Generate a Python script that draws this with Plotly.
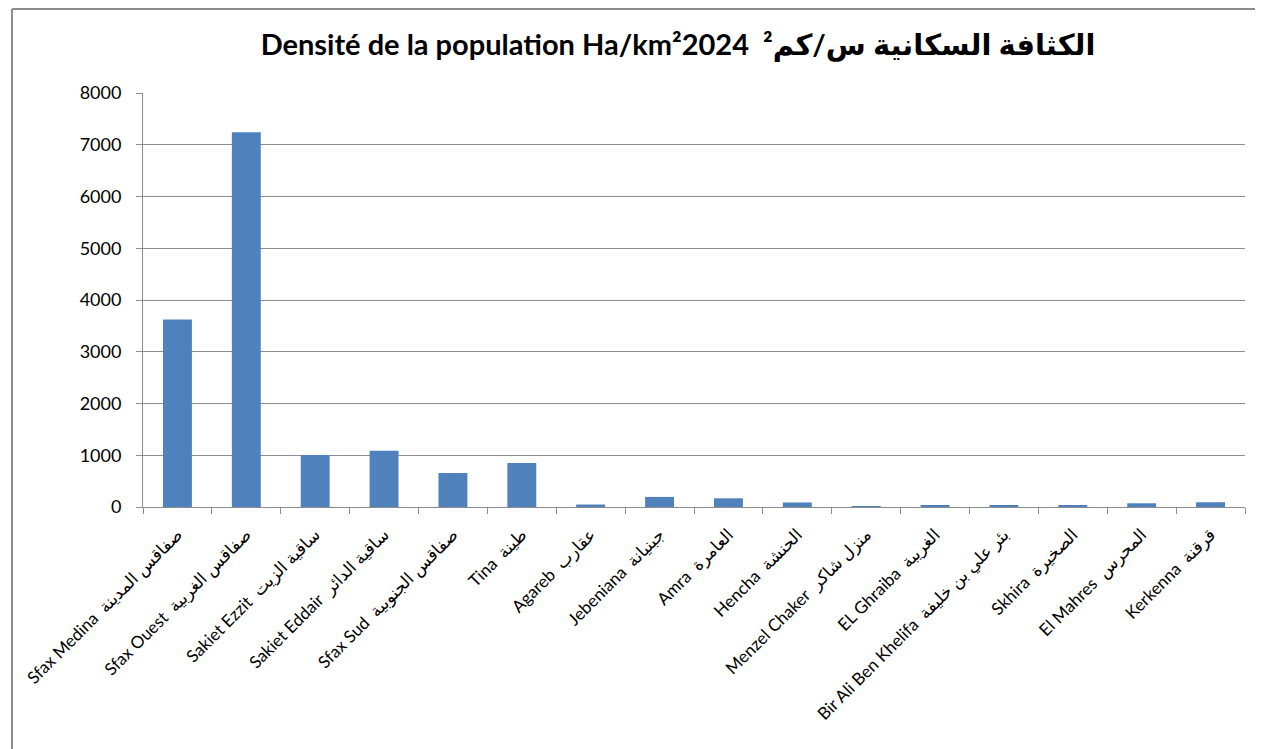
import plotly.graph_objects as go

# Délégations du gouvernorat de Sfax
names_fr = ['Sfax Medina', 'Sfax Ouest', 'Sakiet Ezzit', 'Sakiet Eddair', 'Sfax Sud', 'Tina',
            'Agareb', 'Jebeniana', 'Amra', 'Hencha', 'Menzel Chaker', 'EL Ghraiba',
            'Bir Ali Ben Khelifa', 'Skhira', 'El Mahres', 'Kerkenna']
names_ar = ['صفاقس المدينة', 'صفاقس الغربية', 'ساقية الزيت', 'ساقية الدائر', 'صفاقس الجنوبية', 'طينة',
            'عقارب', 'جبنيانة', 'العامرة', 'الحنشة', 'منزل شاكر', 'الغريبة',
            'بئر علي بن خليفة', 'الصخيرة', 'المحرس', 'قرقنة']
density = [3625, 7240, 1005, 1085, 655, 850, 48, 195, 168, 88, 14, 28, 34, 28, 72, 92]

y_ticks = [0, 1000, 2000, 3000, 4000, 5000, 6000, 7000, 8000]

labels = [f'{fr}  {ar}' for fr, ar in zip(names_fr, names_ar)]

FONT = "Lato, 'DejaVu Sans', sans-serif"
GRAY = '#8c8c8c'

fig = go.Figure(go.Bar(x=labels, y=density, marker_color='#4F81BD',
                       marker_line_width=0))

# the page body adds an 8px margin, so the figure is 8px smaller than the window
fig.update_layout(
    width=1255, height=741,
    margin=dict(l=135, r=18, t=85, b=242, autoexpand=False),
    paper_bgcolor='white', plot_bgcolor='white',
    bargap=0.58,
    showlegend=False,
    font=dict(family=FONT, size=18, color='black'),
    title=dict(text='<b>Densité de la population Ha/km²2024  الكثافة السكانية س/كم²</b>',
               x=0.4855, xref='paper', xanchor='center',
               y=0.95, yref='container', yanchor='middle',
               font=dict(family=FONT, size=29, color='black')),
)

fig.update_xaxes(tickangle=-45, showline=True, linecolor=GRAY, linewidth=1,
                 ticks='outside', tickson='boundaries', ticklen=6, tickcolor=GRAY,
                 ticklabelstandoff=10, showgrid=False, tickfont=dict(size=17))
fig.update_yaxes(range=[0, 8000], tickvals=y_ticks, showline=True, linecolor=GRAY, linewidth=1,
                 ticks='outside', ticklen=6, tickcolor=GRAY, ticklabelstandoff=11,
                 showgrid=True, gridcolor=GRAY, gridwidth=1, zeroline=False,
                 tickfont=dict(size=18))

# cadre du graphique
fig.add_shape(type='line', xref='paper', yref='paper', x0=-0.1189, x1=-0.1189, y0=1.2029, y1=-0.6,
              line=dict(color=GRAY, width=2))
fig.add_shape(type='line', xref='paper', yref='paper', x0=-0.1189, x1=1.03, y0=1.2029, y1=1.2029,
              line=dict(color=GRAY, width=2))

fig.write_html("out.html")
